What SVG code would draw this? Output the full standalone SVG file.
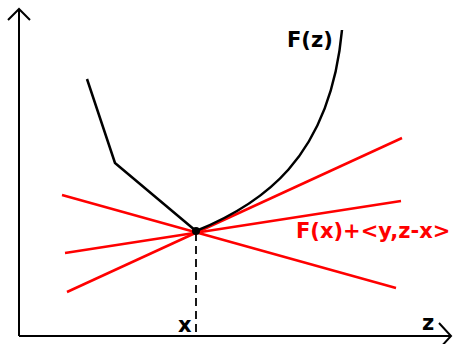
<svg xmlns="http://www.w3.org/2000/svg" width="453" height="344" viewBox="0 0 453 344">
<style>
.ax{stroke:#000;stroke-width:2;fill:none}
.blk{stroke:#000;stroke-width:2.5;fill:none;stroke-linejoin:round}
.red{stroke:#ff0000;stroke-width:2.5;fill:none}
.dash{stroke:#000;stroke-width:1.8;stroke-dasharray:8 5}
.t{font-family:"DejaVu Sans",sans-serif;font-weight:bold;font-size:21px}
</style>
<rect width="453" height="344" fill="#fff"/>
<g id="axes">
<path class="ax" d="M19,336 V9 M8,20 L19,9 L30,20"/>
<path class="ax" d="M19,336 H451 M439,323 L451,336 L439,349"/>
<text class="t" x="178" y="332">x</text>
<text class="t" x="422" y="330">z</text>
</g>
<g id="connectors">
<line class="red" x1="62" y1="195" x2="396" y2="288"/>
<line class="red" x1="65" y1="253" x2="401" y2="201"/>
<line class="red" x1="67" y1="292" x2="402" y2="138"/>
<line class="dash" x1="196" y1="233" x2="196" y2="336"/>
</g>
<g id="function">
<path class="blk" d="M87,79 L115,163 L196,231"/>
<path class="blk" d="M196,231 C260,205 330,160 342,30"/>
<circle cx="196" cy="231" r="4" fill="#000"/>
<text class="t" x="287" y="47">F(z)</text>
</g>
<g id="label">
<text class="t" x="296" y="238" fill="#ff0000">F(x)+&lt;y,z-x&gt;</text>
</g>
</svg>
